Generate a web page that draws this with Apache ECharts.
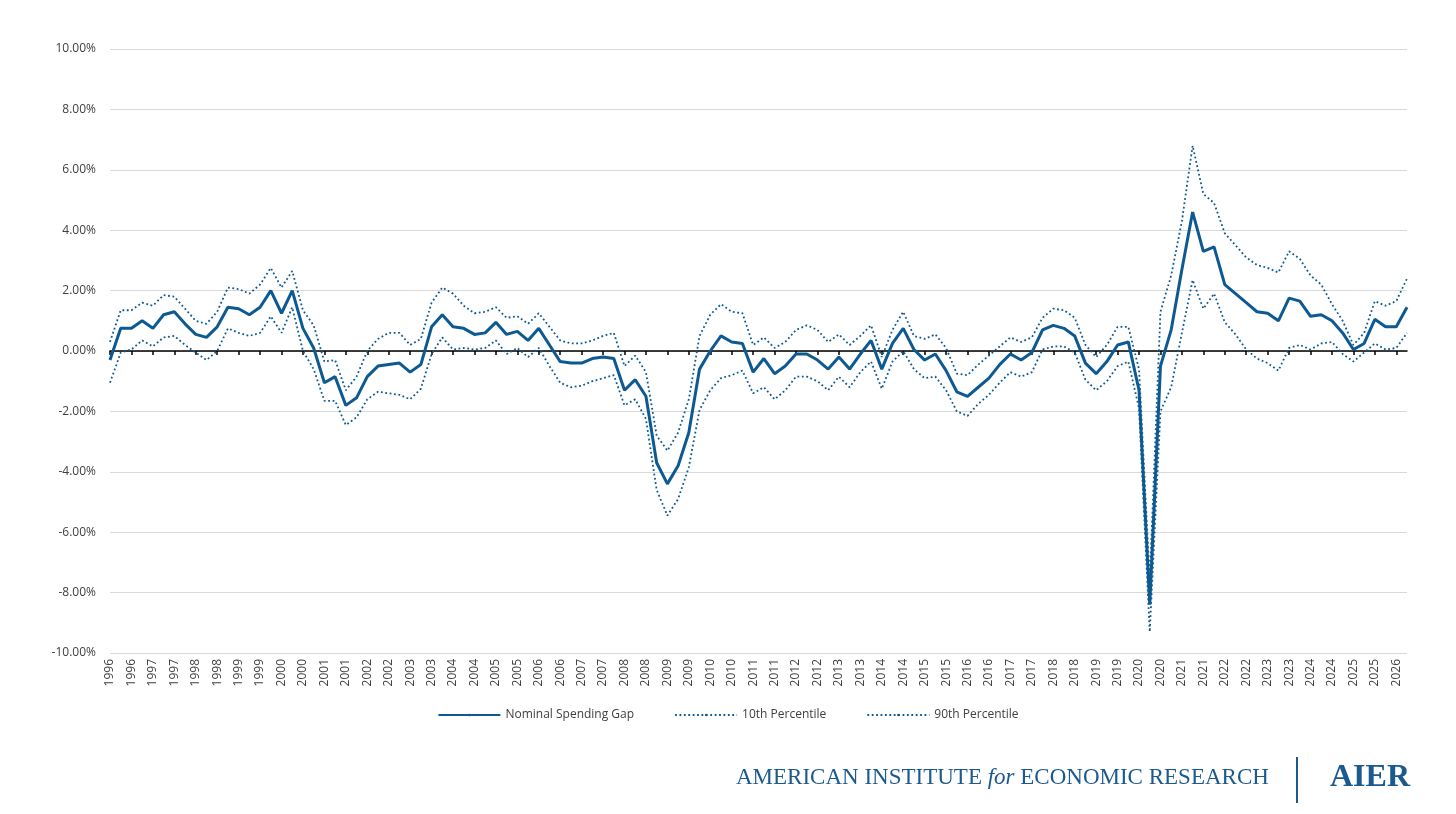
<!DOCTYPE html>
<html><head><meta charset="utf-8">
<script src="https://cdn.jsdelivr.net/npm/echarts@6/dist/echarts.min.js"></script>
<style>html,body{margin:0;padding:0;background:#fff}#c{width:1456px;height:814px}</style>
</head><body><div id="c"></div>
<script>
const startYear = 1996;
const nPoints = 122;
const categories = [];
for (let i = 0; i < nPoints; i++) categories.push(String(startYear + Math.floor(i / 4)));

const gap = [-0.3,0.75,0.75,1.0,0.75,1.2,1.3,0.9,0.55,0.45,0.8,1.45,1.4,1.2,1.45,2.0,1.25,2.0,0.75,0.1,
-1.05,-0.85,-1.8,-1.55,-0.85,-0.5,-0.45,-0.4,-0.7,-0.45,0.8,1.2,0.8,0.75,0.55,0.6,0.95,0.55,0.65,0.35,
0.75,0.2,-0.35,-0.4,-0.4,-0.25,-0.2,-0.25,-1.3,-0.95,-1.5,-3.7,-4.4,-3.8,-2.7,-0.6,0.0,0.5,0.3,0.25,
-0.7,-0.25,-0.75,-0.5,-0.1,-0.1,-0.3,-0.6,-0.2,-0.6,-0.1,0.35,-0.6,0.25,0.75,0.05,-0.3,-0.1,-0.65,-1.35,
-1.5,-1.2,-0.9,-0.45,-0.1,-0.3,-0.05,0.7,0.85,0.75,0.5,-0.4,-0.75,-0.35,0.2,0.3,-1.3,-8.4,-0.5,0.7,
2.7,4.6,3.3,3.45,2.2,1.9,1.6,1.3,1.25,1.0,1.75,1.65,1.15,1.2,1.0,0.6,0.05,0.25,1.05,0.8,0.8,1.45];

const p90 = [0.3,1.35,1.35,1.6,1.5,1.85,1.8,1.4,1.0,0.9,1.3,2.1,2.05,1.9,2.2,2.75,2.1,2.65,1.35,0.85,
-0.35,-0.3,-1.3,-0.85,0.0,0.4,0.6,0.6,0.2,0.4,1.6,2.1,1.9,1.5,1.25,1.3,1.45,1.1,1.15,0.9,
1.25,0.8,0.35,0.25,0.25,0.35,0.5,0.6,-0.5,-0.15,-0.7,-2.8,-3.3,-2.7,-1.6,0.5,1.2,1.55,1.3,1.25,
0.2,0.45,0.1,0.3,0.7,0.85,0.7,0.3,0.55,0.2,0.5,0.85,-0.2,0.7,1.3,0.5,0.4,0.55,0.1,-0.75,
-0.8,-0.45,-0.15,0.15,0.45,0.3,0.45,1.1,1.4,1.35,1.1,0.2,-0.2,0.2,0.8,0.8,-0.6,-7.6,1.3,2.5,
4.3,6.8,5.2,4.9,3.9,3.5,3.1,2.85,2.75,2.6,3.3,3.05,2.5,2.2,1.55,1.0,0.2,0.6,1.65,1.5,1.65,2.4];

const p10 = [-1.05,-0.05,0.05,0.35,0.15,0.45,0.5,0.2,-0.05,-0.3,0.0,0.75,0.6,0.5,0.6,1.15,0.6,1.45,0.0,-0.6,
-1.65,-1.65,-2.45,-2.2,-1.6,-1.35,-1.4,-1.45,-1.6,-1.25,-0.1,0.45,0.05,0.1,0.05,0.1,0.35,-0.1,0.1,-0.2,
0.1,-0.5,-1.05,-1.2,-1.15,-1.0,-0.9,-0.8,-1.8,-1.6,-2.25,-4.6,-5.45,-4.9,-3.85,-1.95,-1.3,-0.9,-0.8,-0.65,
-1.4,-1.2,-1.6,-1.3,-0.85,-0.85,-1.0,-1.3,-0.85,-1.2,-0.7,-0.35,-1.25,-0.35,0.0,-0.6,-0.9,-0.85,-1.3,-2.0,
-2.15,-1.75,-1.45,-1.05,-0.7,-0.85,-0.7,0.05,0.15,0.15,-0.05,-0.95,-1.3,-1.0,-0.5,-0.35,-1.9,-9.3,-2.0,-1.2,
0.6,2.35,1.4,1.9,0.95,0.55,0.05,-0.25,-0.4,-0.65,0.1,0.2,0.05,0.25,0.3,-0.1,-0.35,-0.05,0.25,0.05,0.1,0.6];

const blue = '#0d5a93';
const chart = echarts.init(document.getElementById('c'));
chart.setOption({
  animation: false,
  grid: {left: 110, right: 49, top: 49, bottom: 161},
  legend: {
    top: 704, left: 'center', itemWidth: 62, itemHeight: 3, itemGap: 40,
    textStyle: {fontFamily: 'Open Sans, sans-serif', fontSize: 12, color: '#404040'},
    data: ['Nominal Spending Gap', '10th Percentile', '90th Percentile']
  },
  xAxis: [{
    type: 'category', data: categories, boundaryGap: false,
    axisLine: {show: true, onZero: true, lineStyle: {color: '#000', width: 1.5}},
    axisTick: {show: true, interval: 1, length: 4, lineStyle: {color: '#000', width: 1.5}},
    axisLabel: {show: false}
  }, {
    type: 'category', data: categories, boundaryGap: false, position: 'bottom', offset: 0,
    axisLine: {show: false, onZero: false}, axisTick: {show: false},
    axisLabel: {interval: 1, rotate: 90, color: '#404040', fontSize: 12, fontFamily: 'Open Sans, sans-serif', margin: 6}
  }],
  yAxis: {
    type: 'value', min: -10, max: 10, interval: 2,
    axisLine: {show: false}, axisTick: {show: false},
    splitLine: {lineStyle: {color: '#d9d9d9', width: 1}},
    axisLabel: {formatter: v => v.toFixed(2) + '%', color: '#404040', fontSize: 12, fontFamily: 'Open Sans, sans-serif', margin: 14}
  },
  series: [
    {name: 'Nominal Spending Gap', type: 'line', data: gap, showSymbol: false, symbol: 'none', z: 3,
     lineStyle: {color: blue, width: 3}, itemStyle: {color: blue}},
    {name: '10th Percentile', type: 'line', data: p10, showSymbol: false, symbol: 'none',
     lineStyle: {color: blue, width: 1.8, type: [1.8, 2.6]}, itemStyle: {color: blue}},
    {name: '90th Percentile', type: 'line', data: p90, showSymbol: false, symbol: 'none',
     lineStyle: {color: blue, width: 1.8, type: [1.8, 2.6]}, itemStyle: {color: blue}}
  ],
  graphic: [
    {type: 'text', left: 736, top: 766, style: {rich: {a: {fill: '#1c5a8e', font: '23px "Liberation Serif", serif'}, b: {fill: '#1c5a8e', font: 'italic 23px "Liberation Serif", serif'}},
      text: '{a|AMERICAN INSTITUTE }{b|for}{a| ECONOMIC RESEARCH}'}},
    {type: 'rect', left: 1296, top: 757, shape: {width: 2, height: 46}, style: {fill: '#1c5a8e'}},
    {type: 'text', left: 1330, top: 762, style: {text: 'AIER', fill: '#1c5a8e', font: 'bold 32px "Liberation Serif", serif'}}
  ]
});
</script></body></html>
